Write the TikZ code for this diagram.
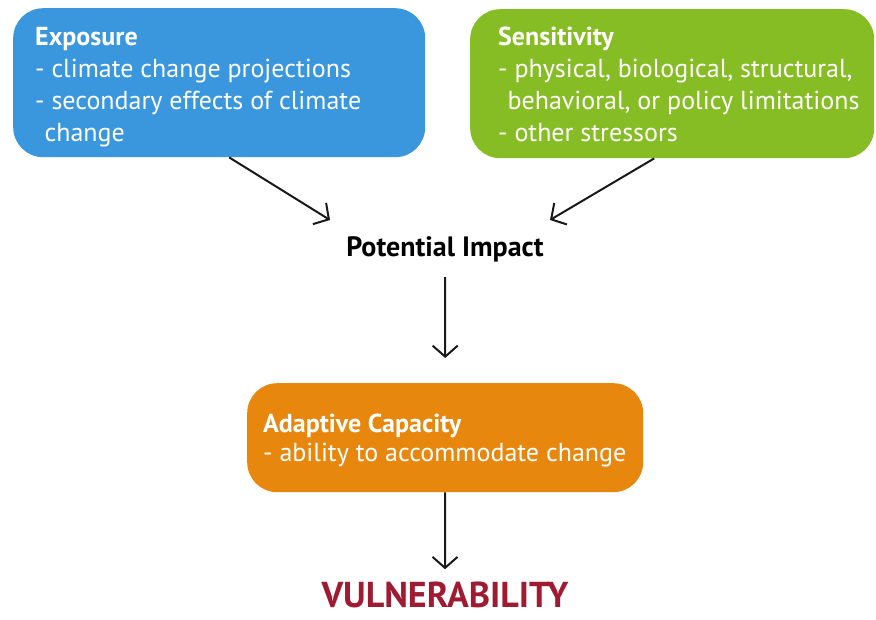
\documentclass[tikz,border=0pt]{standalone}
\usepackage{fontspec}
\setmainfont{PT Sans}
\usetikzlibrary{arrows.meta}
\definecolor{expoblue}{HTML}{3A96DD}
\definecolor{sensgreen}{HTML}{86BC24}
\definecolor{adaptorange}{HTML}{E8870E}
\definecolor{vulnred}{HTML}{9E1B32}
\tikzset{
  card/.style={rounded corners=30pt, draw=none, minimum height=149pt, anchor=north west},
  cardtext/.style={text=white, align=left, anchor=north west, inner sep=0pt,
    font=\fontsize{26}{32}\selectfont},
  flow/.style={draw=black!90, line width=2pt,
    -{Straight Barb[length=11pt,width=25pt,line width=2pt]}},
}
\begin{document}
\begin{tikzpicture}[x=1pt,y=-1pt]
  \useasboundingbox (0,0) rectangle (876,619);

  % the three coloured boxes
  \node[card, fill=expoblue, minimum width=412pt] (expo) at (13,8) {};
  \node[card, fill=sensgreen, minimum width=404pt] (sens) at (470,9) {};
  \node[card, fill=adaptorange, minimum width=396pt, minimum height=109pt] (adapt) at (247,383) {};

  % their texts
  \node[cardtext] (expotxt) at (35,27) {\textbf{Exposure}\\- climate change projections\\- secondary effects of climate\\\hphantom{-}change};
  \node[cardtext] (senstxt) at (498,27) {\textbf{Sensitivity}\\- physical, biological, structural,\\\hphantom{-}behavioral, or policy limitations\\- other stressors};
  \node[cardtext, font=\fontsize{26}{29}\selectfont] (adapttxt) at (263,413.5) {\textbf{Adaptive Capacity}\\- ability to accommodate change};

  % middle and final labels
  \node[font=\fontsize{28}{32}\bfseries\selectfont, text=black, anchor=base] (impact) at (445,256) {Potential Impact};
  \node[font=\fontsize{36}{40}\bfseries\selectfont, text=vulnred, anchor=base, inner sep=0pt] (vuln) at (445,607) {VULNERABILITY};

  % connectors
  \coordinate (ein) at (330,220);
  \coordinate (sin) at (550,220);
  \draw[flow] ([xshift=10pt]expo.south) -- (ein);
  \draw[flow] ([xshift=-18pt]sens.south) -- (sin);
  \draw[flow] ([yshift=-12pt]impact.south) -- ([yshift=25pt]adapt.north);
  \draw[flow] (adapt.south) -- ([yshift=12pt]vuln.north);
\end{tikzpicture}
\end{document}
